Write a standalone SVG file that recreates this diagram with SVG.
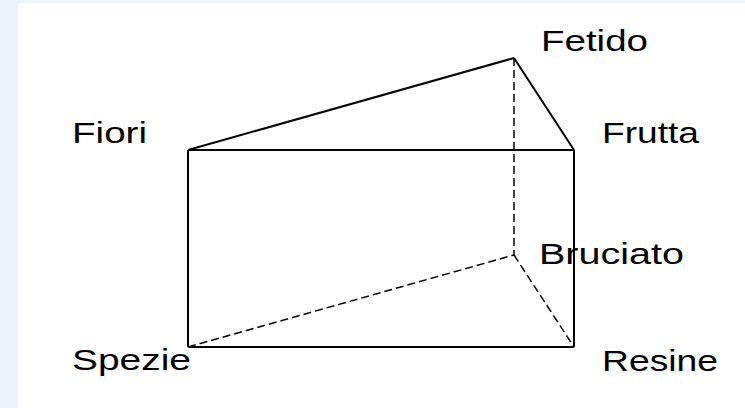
<svg xmlns="http://www.w3.org/2000/svg" width="745" height="408" viewBox="0 0 745 408">
<style>
.solid{stroke:#000;stroke-width:2;fill:none}
.dash{stroke:#000;stroke-width:1.5;fill:none;stroke-dasharray:8 4}
.lbl{font-family:"Liberation Sans",Arial,sans-serif;font-size:29px;fill:#000}
</style>
<rect x="0" y="0" width="745" height="408" fill="#edf4fd"/>
<rect x="18" y="3" width="727" height="405" fill="#ffffff"/>
<g id="connectors">
<line class="solid" x1="188" y1="150" x2="514" y2="58"/>
<line class="solid" x1="514" y1="58" x2="574" y2="150"/>
<line class="solid" x1="188" y1="150" x2="574" y2="150"/>
<line class="solid" x1="188" y1="150" x2="188" y2="347"/>
<line class="solid" x1="574" y1="150" x2="574" y2="347"/>
<line class="solid" x1="188" y1="347" x2="574" y2="347"/>
<line class="dash" x1="514" y1="58" x2="514" y2="255"/>
<line class="dash" x1="188" y1="347" x2="514" y2="255"/>
<line class="dash" x1="514" y1="255" x2="574" y2="347"/>
</g>
<g id="fetido"><text class="lbl" x="541" y="51" textLength="107" lengthAdjust="spacingAndGlyphs">Fetido</text></g>
<g id="fiori"><text class="lbl" x="72" y="143" textLength="75" lengthAdjust="spacingAndGlyphs">Fiori</text></g>
<g id="frutta"><text class="lbl" x="602" y="143" textLength="97" lengthAdjust="spacingAndGlyphs">Frutta</text></g>
<g id="bruciato"><text class="lbl" x="539" y="264" textLength="145" lengthAdjust="spacingAndGlyphs">Bruciato</text></g>
<g id="spezie"><text class="lbl" x="72" y="370" textLength="119" lengthAdjust="spacingAndGlyphs">Spezie</text></g>
<g id="resine"><text class="lbl" x="602" y="371" textLength="116" lengthAdjust="spacingAndGlyphs">Resine</text></g>
</svg>
